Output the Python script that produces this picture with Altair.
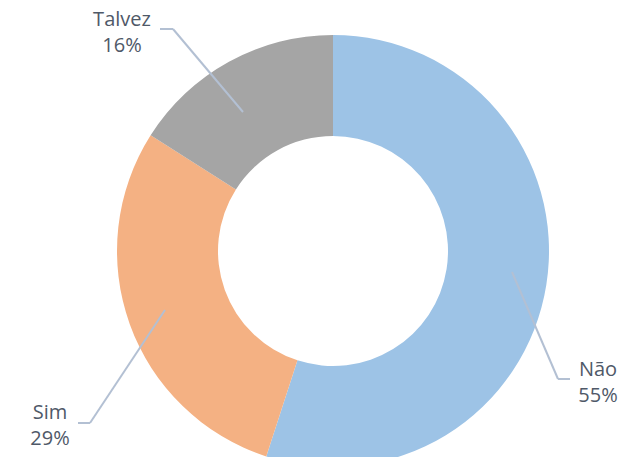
import altair as alt
import pandas as pd

categories = ["Não", "Sim", "Talvez"]
values = [55, 29, 16]
colors = ["#9DC3E6", "#F4B183", "#A5A5A5"]
label_texts = ["Não\n55%", "Sim\n29%", "Talvez\n16%"]

df = pd.DataFrame({"cat": categories, "value": values, "order": [0, 1, 2]})

CX, CY = 325, 243
OUTER, INNER = 216, 115

donut = alt.Chart(df).mark_arc(outerRadius=OUTER, innerRadius=INNER).encode(
    theta=alt.Theta("value:Q", stack=True),
    order=alt.Order("order:Q"),
    color=alt.Color("cat:N", scale=alt.Scale(domain=categories, range=colors), legend=None),
    x=alt.value(CX),
    y=alt.value(CY),
)

# label anchor positions (annotation placement, pixels in plot area)
label_pos = {"Não": (590, 368), "Sim": (42, 411), "Talvez": (114, 18)}
leaders = {
    "Não": [(550, 371, 562, 371), (550, 371, 504, 264)],
    "Sim": [(70, 415, 82, 415), (82, 415, 157, 302)],
    "Talvez": [(152, 21, 165, 21), (165, 21, 235, 104)],
}

layers = [donut]
line_color = "#B3C0D3"
for cat in categories:
    for (x1, y1, x2, y2) in leaders[cat]:
        layers.append(
            alt.Chart(df).transform_filter(alt.datum.cat == cat).mark_rule(
                color=line_color, strokeWidth=2
            ).encode(x=alt.value(x1), y=alt.value(y1), x2=alt.value(x2), y2=alt.value(y2))
        )

ldf = pd.DataFrame({"cat": categories, "label": label_texts})
for cat in categories:
    lx, ly = label_pos[cat]
    layers.append(
        alt.Chart(ldf).transform_filter(alt.datum.cat == cat).mark_text(
            lineBreak="\n", lineHeight=26, fontSize=20, font="Open Sans",
            color="#4F5968", align="center", baseline="alphabetic"
        ).encode(text="label:N", x=alt.value(lx), y=alt.value(ly))
    )

chart = alt.layer(*layers).properties(
    width=618, height=449, padding=0, autosize=alt.AutoSizeParams(type="none")
).configure_view(stroke=None)

chart.save("out.html", embed_options={"renderer": "svg", "actions": False})
